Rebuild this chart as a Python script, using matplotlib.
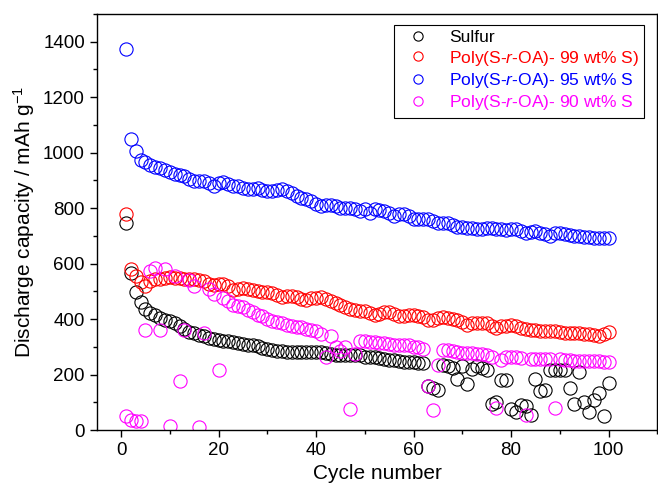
import matplotlib
matplotlib.use("Agg")
import matplotlib.pyplot as plt
import numpy as np

plt.rcParams.update({"font.family": "Liberation Sans", "mathtext.fontset": "custom",
                     "mathtext.it": "Liberation Sans:italic", "mathtext.rm": "Liberation Sans"})

cycles = np.arange(1, 101)

sulfur = [745, 565, 498, 462, 438,
          422, 414, 404, 398, 392, 384, 374, 365, 355, 349, 344, 338, 332, 329, 326, 322,
          320, 316, 314, 310, 308, 305,
          302, 296, 293, 290, 286, 284, 281, 281, 281, 280, 280, 280, 280, 280, 277, 274,
          271, 271, 271, 269, 269, 269, 265, 265, 262, 259, 257, 253, 253, 250, 247, 247,
          245, 241, 242,
          160, 150, 145, 235, 230, 225, 185, 230, 165, 220, 230, 225, 215, 95, 100, 180,
          180, 75, 65, 90, 85, 55, 185, 140, 145, 215, 215, 215, 215, 150, 95, 210, 100,
          65, 110, 135, 52, 170]

s99 = [780, 580, 555, 535, 518,
       537, 543, 546, 549, 551, 549, 549, 546, 543, 543, 539, 537,
       525, 522, 525, 525, 518, 506, 509, 513, 510, 503,
       500, 497, 497, 495, 486, 479, 482, 482, 479, 474, 470, 476, 476, 479, 474, 464,
       458, 450, 443, 438, 434, 430, 428, 422, 416, 419, 426, 426, 419, 410, 412, 416,
       416, 410, 408, 398, 396, 404, 408, 404, 400, 396, 388, 380, 386, 386, 386, 384,
       376, 368, 374, 376, 380, 376, 368, 364, 362, 359, 356, 356, 356, 356, 352, 350,
       350, 350, 350, 347, 347, 344, 340, 347, 352]

s95 = [1375, 1050, 1005, 975,
       965, 956, 949, 944, 937, 929, 923, 919, 914, 905, 896, 898, 898, 890, 880, 890,
       893, 887, 878, 880, 874, 868, 868, 871, 866, 862, 862, 866, 868, 862, 854, 844,
       836, 832, 826, 814, 808, 811, 812, 806, 802, 802, 802, 796, 790,
       796, 784, 796, 794, 790, 784, 772, 778, 778, 772, 762, 760, 762, 760, 754, 748,
       745, 745, 738, 733, 733, 730, 730, 726, 724, 730, 730, 726, 724, 721, 724, 726,
       718, 709, 714, 718, 712, 706, 700, 709, 712, 706, 702, 700, 700, 697, 697, 693,
       693, 691, 693]

s90 = [50, 35, 33, 33, 360, 575, 585, 360, 580, 15, 555, 175, 360, 540, 520, 10, 350,
       510, 490, 215, 475,
       464, 452, 446, 442, 434, 426, 416, 410, 402, 394, 390, 386, 380, 374, 372, 370,
       365, 360, 356, 346,
       265, 338, 300, 285, 300, 75, 273, 320, 322, 318, 317, 314, 314, 310, 308, 305,
       305, 305, 301, 298, 293, 160, 72, 236,
       289, 287, 284, 280, 278, 277, 277, 274, 274, 272, 265, 80, 254, 265, 265, 262,
       260, 55, 256, 256, 256, 256, 256, 80, 256, 254, 253, 250, 250, 250, 248, 248,
       248, 246, 244]

series = [("Sulfur", sulfur, "black"),
          ("Poly(S-$\\it{r}$-OA)- 99 wt% S)", s99, "#ff0000"),
          ("Poly(S-$\\it{r}$-OA)- 95 wt% S", s95, "#0000ff"),
          ("Poly(S-$\\it{r}$-OA)- 90 wt% S", s90, "#ff00ff")]

fig = plt.figure(figsize=(6.58, 4.96), dpi=100)
ax = fig.add_axes([0.147, 0.133, 0.852, 0.839])

for lab, ys, c in series:
    ax.plot(cycles, ys, ls="none", marker="o", markersize=9.5, markerfacecolor="none",
            markeredgecolor=c, markeredgewidth=0.8, label=lab)

ax.set_xlim(-5, 110)
ax.set_ylim(0, 1500)
ax.set_xticks(np.arange(0, 101, 20))
ax.set_xticks(np.arange(-0, 111, 10), minor=True)
ax.set_yticks(np.arange(0, 1401, 200))
ax.set_yticks(np.arange(0, 1501, 100), minor=True)
ax.tick_params(which="major", direction="out", length=5, width=1, labelsize=13.5)
ax.tick_params(which="minor", direction="out", length=3, width=1)
for s in ax.spines.values():
    s.set_linewidth(1)
ax.set_xlabel("Cycle number", fontsize=15)
ax.set_ylabel("Discharge capacity / mAh g$^{-1}$", fontsize=15)

leg = ax.legend(loc="upper right", bbox_to_anchor=(0.977, 0.974), borderaxespad=0,
                fontsize=12.5, markerscale=0.7, fancybox=False, edgecolor="black",
                framealpha=1, handletextpad=0.7, borderpad=0.3, labelspacing=0.2,
                handlelength=2.2)
leg.get_frame().set_linewidth(0.8)
for t, (_, _, c) in zip(leg.get_texts(), series):
    t.set_color(c)

fig.savefig("out.png", dpi=100)
